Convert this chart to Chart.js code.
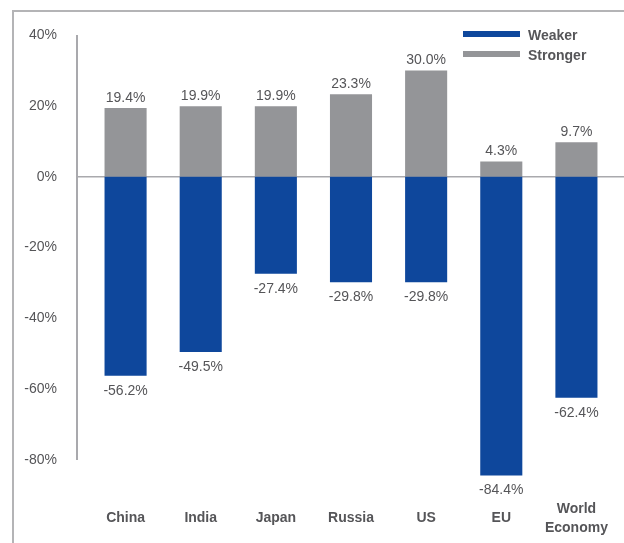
<!DOCTYPE html>
<html>
<head>
<meta charset="utf-8">
<script src="https://cdn.jsdelivr.net/npm/chart.js@4"></script>
<style>
    html, body { margin: 0; padding: 0; background: #fff; }
    #wrap { width: 624px; height: 543px; }
</style>
</head>
<body>
<div id="wrap"><canvas id="outlookChart" width="624" height="543"></canvas></div>
<script>
// Outlook by economy
const categories = ['China', 'India', 'Japan', 'Russia', 'US', 'EU', ['World', 'Economy']];
const weaker = [-56.2, -49.5, -27.4, -29.8, -29.8, -84.4, -62.4];
const stronger = [19.4, 19.9, 19.9, 23.3, 30.0, 4.3, 9.7];
const yTicks = [40, 20, 0, -20, -40, -60, -80];

const BLUE = '#0e479c';
const GREY = '#949598';
const TEXT = '#555558';
const LINE = '#a9a9ad';
const FONT = '"Liberation Sans", Arial, sans-serif';

// frame, axis line, zero line, value labels and legend
const decorations = {
    id: 'decorations',
    beforeDraw(chart) {
        const ctx = chart.ctx;
        ctx.save();
        ctx.strokeStyle = '#b4b4b6';
        ctx.lineWidth = 2;
        ctx.beginPath();
        ctx.moveTo(13, 543);
        ctx.lineTo(13, 11);
        ctx.lineTo(624, 11);
        ctx.stroke();
        ctx.restore();
    },
    beforeDatasetsDraw(chart) {
        const ctx = chart.ctx;
        const y = chart.scales.y;
        const axisX = chart.chartArea.left - 11;
        ctx.save();
        ctx.strokeStyle = LINE;
        ctx.lineWidth = 2;
        ctx.beginPath();
        ctx.moveTo(axisX, y.getPixelForValue(40));
        ctx.lineTo(axisX, y.getPixelForValue(-80));
        ctx.stroke();
        ctx.lineWidth = 1.5;
        ctx.beginPath();
        ctx.moveTo(axisX, y.getPixelForValue(0));
        ctx.lineTo(chart.width, y.getPixelForValue(0));
        ctx.stroke();
        ctx.restore();
    },
    afterDraw(chart) {
        const ctx = chart.ctx;
        ctx.save();
        ctx.fillStyle = TEXT;
        ctx.font = '14px ' + FONT;
        ctx.textAlign = 'center';
        chart.data.datasets.forEach((ds, di) => {
            chart.getDatasetMeta(di).data.forEach((bar, i) => {
                const v = ds.data[i];
                const txt = v.toFixed(1) + '%';
                if (v >= 0) {
                    ctx.textBaseline = 'bottom';
                    ctx.fillText(txt, bar.x, bar.y - 3);
                } else {
                    ctx.textBaseline = 'top';
                    ctx.fillText(txt, bar.x, bar.y + 8);
                }
            });
        });

        // legend
        ctx.textAlign = 'left';
        ctx.textBaseline = 'middle';
        ctx.font = 'bold 14px ' + FONT;
        chart.data.datasets.forEach((ds, di) => {
            const cy = 34 + di * 20;
            ctx.fillStyle = ds.backgroundColor;
            ctx.fillRect(463, cy - 3, 57, 6);
            ctx.fillStyle = TEXT;
            ctx.fillText(ds.label, 528, cy + 2);
        });
        ctx.restore();
    }
};

new Chart(document.getElementById('outlookChart'), {
    type: 'bar',
    data: {
        labels: categories,
        datasets: [{
            label: 'Weaker',
            data: weaker,
            backgroundColor: BLUE,
            clip: false
        }, {
            label: 'Stronger',
            data: stronger,
            backgroundColor: GREY,
            clip: false
        }]
    },
    options: {
        responsive: false,
        animation: false,
        categoryPercentage: 1,
        barPercentage: 0.56,
        layout: {
            padding: { top: 35, right: 10, left: 0, bottom: 0 }
        },
        plugins: {
            legend: { display: false },
            tooltip: { enabled: false }
        },
        scales: {
            x: {
                stacked: true,
                grid: { display: false, drawTicks: false },
                border: { display: false },
                ticks: {
                    color: TEXT,
                    padding: 49,
                    crossAlign: 'center',
                    maxRotation: 0,
                    autoSkip: false,
                    font: { family: FONT, size: 14, weight: 'bold', lineHeight: 1.35 }
                },
                afterFit(scale) {
                    scale.height = 83;
                    scale.paddingLeft = 0;
                    scale.paddingRight = 0;
                }
            },
            y: {
                stacked: true,
                min: -80,
                max: 40,
                grid: { display: false, drawTicks: false },
                border: { display: false },
                afterBuildTicks(scale) {
                    scale.ticks = yTicks.map(v => ({ value: v }));
                },
                ticks: {
                    color: TEXT,
                    padding: 31,
                    font: { family: FONT, size: 14 },
                    callback: v => v + '%'
                },
                afterFit(scale) {
                    scale.width = 88;
                    scale.paddingTop = 0;
                    scale.paddingBottom = 0;
                }
            }
        }
    },
    plugins: [decorations]
});
</script>
</body>
</html>
